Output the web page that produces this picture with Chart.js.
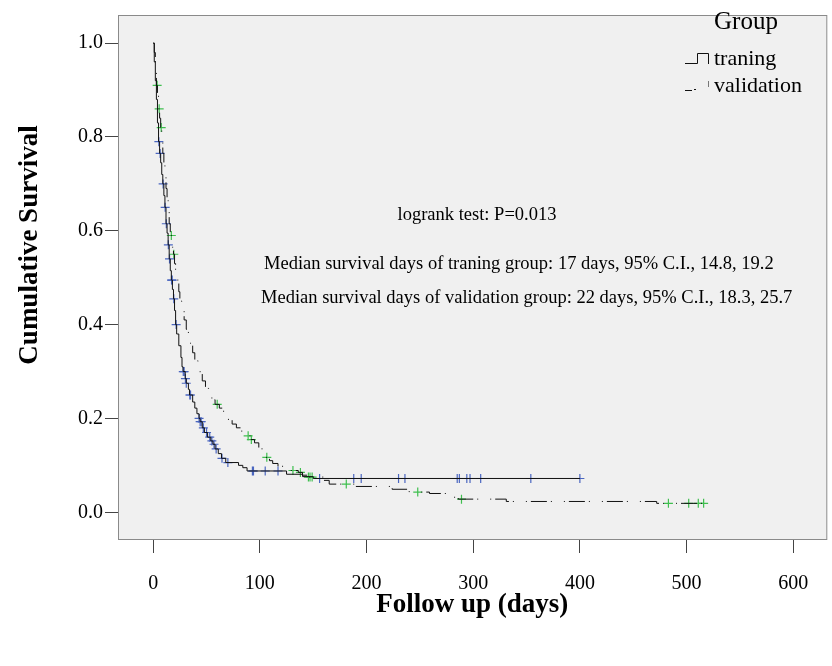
<!DOCTYPE html>
<html>
<head>
<meta charset="utf-8">
<script src="https://cdn.jsdelivr.net/npm/chart.js@4.4.1/dist/chart.umd.min.js"></script>
<style>
  html, body { margin: 0; padding: 0; background: #fff; }
  #km { display: block; }
</style>
</head>
<body>
<canvas id="km" width="832" height="666"></canvas>
<script>
// Kaplan-Meier steps (day, cumulative survival)
const trainDays = [0,1,2,3,4,5,6,7,8,9,10,11,12,13,14,15,16,17,18,19,20,21,22,24,26,27,28,30,31,33,34,37,39,41,43,44,46,48,51,54,56,58,61,64,68,80,84,88,125,140,150,400];
const trainSurv = [1.0,0.96,0.92,0.88,0.83,0.79,0.765,0.745,0.72,0.70,0.675,0.65,0.615,0.595,0.57,0.54,0.515,0.495,0.475,0.455,0.43,0.40,0.38,0.355,0.33,0.31,0.30,0.285,0.275,0.262,0.25,0.235,0.222,0.21,0.20,0.193,0.18,0.17,0.16,0.152,0.145,0.135,0.125,0.115,0.106,0.10,0.095,0.088,0.081,0.076,0.072,0.072];

const validDays = [0,1,2,3,4,5,6,7,8,9,10,11,12,13,14,15,16,18,19,20,21,22,24,25,27,29,31,33,35,37,39,42,44,46,49,52,55,58,62,66,70,74,78,83,87,91,95,99,102,105,109,112,117,122,128,136,140,145,160,165,190,224,240,259,282,286,331,472,517];
const validSurv = [1.0,0.98,0.95,0.91,0.89,0.86,0.84,0.82,0.79,0.765,0.74,0.715,0.69,0.665,0.64,0.615,0.59,0.565,0.55,0.53,0.515,0.495,0.47,0.45,0.43,0.41,0.39,0.375,0.36,0.34,0.323,0.31,0.296,0.28,0.264,0.25,0.24,0.23,0.222,0.21,0.198,0.188,0.18,0.17,0.163,0.155,0.148,0.138,0.128,0.117,0.11,0.104,0.098,0.094,0.089,0.085,0.079,0.075,0.068,0.06,0.055,0.049,0.043,0.04,0.032,0.028,0.023,0.019,0.019];

// censored cases (+ marks)
const trainCensDays = [5.3,6.5,9.3,11.2,12.3,14.2,15.3,17.2,17.8,19.3,21.5,28.2,29,30.2,31,34.3,35,43,44,45,47,50,53,55,57,59,64.5,70,93,94,105,117,156,188,195,230,236,285,287,294,297,307,354,400];
const trainCensSurv = [0.79,0.765,0.70,0.65,0.615,0.57,0.54,0.495,0.495,0.455,0.40,0.30,0.30,0.285,0.275,0.25,0.25,0.20,0.193,0.193,0.18,0.17,0.16,0.152,0.145,0.135,0.115,0.106,0.088,0.088,0.088,0.088,0.072,0.072,0.072,0.072,0.072,0.072,0.072,0.072,0.072,0.072,0.072,0.072];

const validCensDays = [3.7,5.6,7.5,17,19.3,60,89,92,106.5,131,138,145.5,147,149,181,248,289,483,502,511,516];
const validCensSurv = [0.91,0.86,0.82,0.59,0.55,0.23,0.163,0.155,0.117,0.089,0.085,0.075,0.075,0.075,0.06,0.043,0.028,0.019,0.019,0.019,0.019];

const xTicks = [0,100,200,300,400,500,600];
const yTicks = [0,0.2,0.4,0.6,0.8,1.0];

const notes = [
  "logrank test: P=0.013",
  "Median survival days of traning group: 17 days, 95% C.I., 14.8, 19.2",
  "Median survival days of validation group: 22 days, 95% C.I., 18.3, 25.7"
];

function pts(xs, ys) {
  return xs.map((x, i) => ({x: x, y: ys[i]}));
}

const serif = "'Liberation Serif', 'Times New Roman', serif";

// grey plot background + box, y title, notes and legend
const decor = {
  id: 'decor',
  beforeDatasetsDraw(chart) {
    const {ctx, chartArea: a} = chart;
    ctx.save();
    ctx.fillStyle = '#f0f0f0';
    ctx.fillRect(a.left, a.top, a.right - a.left, a.bottom - a.top);
    ctx.restore();
  },
  afterDraw(chart) {
    const {ctx, chartArea: a} = chart;
    ctx.save();
    ctx.strokeStyle = '#8a8a8a';
    ctx.lineWidth = 1;
    ctx.strokeRect(a.left + 0.5, a.top + 0.5, a.right - a.left, a.bottom - a.top);

    ctx.fillStyle = '#000';
    ctx.textBaseline = 'middle';

    // y title
    ctx.save();
    ctx.translate(30, 245);
    ctx.rotate(-Math.PI / 2);
    ctx.textAlign = 'center';
    ctx.font = "bold 27px " + serif;
    ctx.fillText("Cumulative Survival", 0, 0);
    ctx.restore();

    // text notes
    ctx.font = "18.5px " + serif;
    ctx.textAlign = 'center';
    ctx.fillText(notes[0], 477, 215);
    ctx.textAlign = 'left';
    ctx.fillText(notes[1], 264, 264);
    ctx.fillText(notes[2], 261, 298);

    // legend
    ctx.textAlign = 'center';
    ctx.textBaseline = 'alphabetic';
    ctx.font = "25px " + serif;
    ctx.fillText("Group", 746, 29);
    ctx.textAlign = 'left';
    ctx.font = "22px " + serif;
    ctx.fillText("traning", 714, 65);
    ctx.fillText("validation", 714, 92);

    ctx.strokeStyle = '#111';
    ctx.beginPath();
    ctx.moveTo(685, 63.5); ctx.lineTo(697.5, 63.5); ctx.lineTo(697.5, 53.5);
    ctx.lineTo(708.5, 53.5); ctx.lineTo(708.5, 64);
    ctx.stroke();
    ctx.beginPath();
    ctx.moveTo(685, 90.5); ctx.lineTo(692, 90.5);
    ctx.moveTo(694, 89.5); ctx.lineTo(696, 89.5);
    ctx.stroke();
    ctx.strokeStyle = '#777';
    ctx.beginPath();
    ctx.moveTo(708.5, 81); ctx.lineTo(708.5, 87);
    ctx.stroke();
    ctx.restore();
  }
};

new Chart(document.getElementById('km'), {
  type: 'scatter',
  data: {
    datasets: [
      {
        label: 'traning',
        data: pts(trainDays, trainSurv),
        showLine: true,
        stepped: true,
        borderColor: '#111',
        borderWidth: 1,
        pointRadius: 0
      },
      {
        label: 'validation',
        data: pts(validDays, validSurv),
        showLine: true,
        stepped: true,
        borderColor: '#111',
        borderWidth: 1,
        borderDash: [16, 4, 1, 12, 1, 4],
        pointRadius: 0
      },
      {
        label: 'traning censored',
        data: pts(trainCensDays, trainCensSurv),
        pointStyle: 'cross',
        pointRadius: 4.5,
        borderColor: '#4a66c0',
        borderWidth: 1.2
      },
      {
        label: 'validation censored',
        data: pts(validCensDays, validCensSurv),
        pointStyle: 'cross',
        pointRadius: 4.5,
        borderColor: '#3fbf4f',
        borderWidth: 1.2
      }
    ]
  },
  options: {
    responsive: false,
    animation: false,
    layout: { padding: { top: 15, right: 4, bottom: 42, left: 0 } },
    plugins: {
      legend: { display: false },
      tooltip: { enabled: false }
    },
    scales: {
      x: {
        type: 'linear',
        min: -33,
        max: 631,
        afterBuildTicks: s => { s.ticks = xTicks.map(v => ({value: v})); },
        afterFit: s => { s.height = 85; },
        grid: { drawOnChartArea: false, tickLength: 14, tickColor: '#444' },
        border: { display: true, color: '#8a8a8a' },
        ticks: { color: '#000', padding: 19, font: { family: serif, size: 20 } },
        title: {
          display: true,
          text: 'Follow up (days)',
          color: '#000',
          padding: { top: 0, bottom: 3 },
          font: { family: serif, size: 27, weight: 'bold' }
        }
      },
      y: {
        min: -0.057,
        max: 1.06,
        afterBuildTicks: s => { s.ticks = yTicks.map(v => ({value: v})); },
        afterFit: s => { s.width = 118; },
        grid: { drawOnChartArea: false, tickLength: 13, tickColor: '#444' },
        border: { display: true, color: '#8a8a8a' },
        ticks: {
          color: '#000',
          padding: 2,
          font: { family: serif, size: 20 },
          callback: v => v.toFixed(1)
        }
      }
    }
  },
  plugins: [decor]
});
</script>
</body>
</html>
